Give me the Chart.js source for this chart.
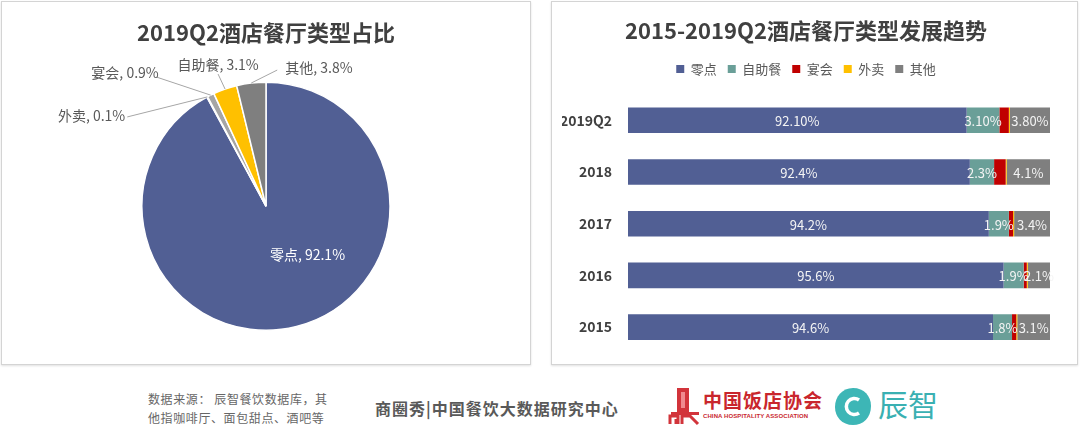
<!DOCTYPE html>
<html>
<head>
<meta charset="utf-8">
<script src="https://cdn.jsdelivr.net/npm/chart.js@4"></script>
<style>
  body { margin: 0; width: 1080px; height: 433px; background: #fff; position: relative; overflow: hidden;
         font-family: 'Noto Sans CJK SC', 'Noto Sans', sans-serif; }
  .panel { position: absolute; top: 1px; height: 364px; box-sizing: border-box; border: 1px solid #d4d4d4;
           box-shadow: 0 1px 2px rgba(0,0,0,0.12); background: #fff; }
  .panel canvas { position: absolute; left: 0; top: 0; }
  .note { position: absolute; left: 148px; top: 389px; font-size: 12px; line-height: 19px; color: #666; letter-spacing: 0.6px; }
  .brand { position: absolute; left: 375px; top: 396px; font-size: 16px; font-weight: bold; color: #595959; letter-spacing: 1px; }
  .cha { position: absolute; left: 703px; top: 386px; font-size: 19px; font-weight: bold; color: #c9262d; letter-spacing: 1px; }
  .cha-en { position: absolute; left: 703px; top: 413px; font-size: 6px; font-weight: bold; color: #c9262d; letter-spacing: 0.1px; font-family: 'Liberation Sans', sans-serif; }
  .cz { position: absolute; left: 878px; top: 384px; font-size: 30px; color: #3ab0b2; line-height: 38px; }
</style>
</head>
<body>
<div class="panel" style="left:1px; width:530px;"><canvas id="pieChart" width="528" height="362"></canvas></div>
<div class="panel" style="left:551px; width:527px;"><canvas id="barChart" width="525" height="362"></canvas></div>

<div class="note">数据来源： 辰智餐饮数据库，其<br>他指咖啡厅、面包甜点、酒吧等</div>
<div class="brand">商圈秀|中国餐饮大数据研究中心</div>

<svg style="position:absolute; left:668px; top:386px;" width="34" height="40" viewBox="0 0 34 40">
  <rect x="9" y="2" width="12" height="24" fill="#d2343b"/>
  <rect x="13" y="6" width="4" height="16" fill="#f08a8f"/>
  <rect x="3" y="26" width="28" height="3" fill="#d2343b"/>
  <path d="M2 38 V30 H10 V38 M8 38 V33 M14 38 V30 H22 L30 38" stroke="#d2343b" stroke-width="3" fill="none"/>
</svg>
<div class="cha">中国饭店协会</div>
<div class="cha-en">CHINA HOSPITALITY ASSOCIATION</div>
<svg style="position:absolute; left:833px; top:385px;" width="40" height="42" viewBox="0 0 40 42">
  <path d="M20 3 C31 3 38 11 38 21 C38 33 30 40 20 40 C9 40 2 32 2 22 C2 12 9 3 20 3 Z" fill="#3db6b6"/>
  <path d="M26 15 A8 8 0 1 0 26 28" stroke="#fff" stroke-width="3.5" fill="none"/>
</svg>
<div class="cz">辰智</div>

<script>
// ---- pie: 2019Q2 share ----
const pieLabels = ['零点', '外卖', '宴会', '自助餐', '其他'];
const pieValues = [92.1, 0.1, 0.9, 3.1, 3.8];
const pieColors = ['#515f94', '#5b9bd5', '#a5a5a5', '#ffc000', '#7f7f7f'];

// ---- stacked bars: 2015-2019Q2 trend ----
const years = ['2019Q2', '2018', '2017', '2016', '2015'];
const lingDian = [92.1, 92.4, 94.2, 95.6, 94.6];
const ziZhuCan = [3.1, 2.3, 1.9, 1.9, 1.8];
const yanHui = [0.9, 1.1, 0.4, 0.3, 0.4];
const waiMai = [0.1, 0.1, 0.1, 0.1, 0.1];
const qiTa = [3.8, 4.1, 3.4, 2.1, 3.1];
const labelDecimals = [2, 1, 1, 1, 1];

const titleFont = { family: "'Noto Sans CJK SC', sans-serif", size: 22, weight: 'bold' };

// label placement for each pie slice, relative to the slice's outer edge midpoint
const pieLabelStyle = [
    { dx: 11, dy: -72, tx: 0, ty: 0, align: 'center', line: false, color: '#ffffff' },
    { dx: -80, dy: 20, tx: -2, ty: -1, align: 'right', line: true, color: '#595959' },
    { dx: -54, dy: -18, tx: 2, ty: -4, align: 'right', line: true, color: '#595959' },
    { dx: -7, dy: -15, tx: 0, ty: -9, align: 'center', line: true, color: '#595959' },
    { dx: 26, dy: -13, tx: 8, ty: -2, align: 'left', line: true, color: '#595959' }
];

const pieLabelPlugin = {
    id: 'pieLabels',
    afterDatasetsDraw(chart) {
        const ctx = chart.ctx;
        const meta = chart.getDatasetMeta(0);
        ctx.save();
        ctx.font = "14px 'Noto Sans CJK SC', sans-serif";
        ctx.textBaseline = 'middle';
        meta.data.forEach((arc, i) => {
            const p = arc.getProps(['x', 'y', 'startAngle', 'endAngle', 'outerRadius'], true);
            const mid = (p.startAngle + p.endAngle) / 2;
            const ex = p.x + Math.cos(mid) * p.outerRadius;
            const ey = p.y + Math.sin(mid) * p.outerRadius;
            const s = pieLabelStyle[i];
            const lx = ex + s.dx, ly = ey + s.dy;
            if (s.line) {
                ctx.strokeStyle = '#a6a6a6';
                ctx.lineWidth = 1;
                ctx.beginPath();
                ctx.moveTo(ex, ey);
                ctx.lineTo(lx, ly);
                ctx.stroke();
            }
            ctx.fillStyle = s.color;
            ctx.textAlign = s.align;
            ctx.fillText(`${pieLabels[i]}, ${pieValues[i]}%`, lx + s.tx, ly + s.ty);
        });
        ctx.restore();
    }
};

new Chart(document.getElementById('pieChart'), {
    type: 'pie',
    data: {
        labels: pieLabels,
        datasets: [{
            data: pieValues,
            backgroundColor: pieColors,
            borderColor: '#ffffff',
            borderWidth: 1.5
        }]
    },
    options: {
        responsive: false,
        animation: false,
        layout: { padding: { top: 0, bottom: 33, left: 0, right: 0 } },
        plugins: {
            legend: { display: false },
            tooltip: { enabled: false },
            title: {
                display: true,
                text: '2019Q2酒店餐厅类型占比',
                color: '#404040',
                font: titleFont,
                padding: { top: 17, bottom: 36 }
            }
        }
    },
    plugins: [pieLabelPlugin]
});

// value labels in the middle of the bar segments (零点, 自助餐, 其他)
const barLabelPlugin = {
    id: 'barLabels',
    afterDatasetsDraw(chart) {
        const ctx = chart.ctx;
        const area = chart.chartArea;
        ctx.save();
        ctx.font = "13px 'Noto Sans CJK SC', sans-serif";
        ctx.fillStyle = '#f4f4f4';
        ctx.textAlign = 'center';
        ctx.textBaseline = 'middle';
        chart.data.datasets.forEach((ds, di) => {
            if (!ds.showValue) return;
            chart.getDatasetMeta(di).data.forEach((bar, j) => {
                const { x, y, base } = bar.getProps(['x', 'y', 'base'], true);
                const left = Math.max(Math.min(x, base), area.left);
                const right = Math.min(Math.max(x, base), area.right);
                ctx.fillText(ds.data[j].toFixed(labelDecimals[j]) + '%', (left + right) / 2, y + 1);
            });
        });
        ctx.restore();
    }
};

// extra room under the legend
const legendGap = {
    id: 'legendGap',
    beforeInit(chart) {
        const fit = chart.legend.fit;
        chart.legend.fit = function () {
            fit.call(this);
            this.height += 9;
        };
    }
};

function barSet(label, data, color, showValue) {
    return {
        label, data,
        backgroundColor: color,
        borderWidth: 0,
        barPercentage: 0.9,
        categoryPercentage: 0.55,
        showValue
    };
}

new Chart(document.getElementById('barChart'), {
    type: 'bar',
    data: {
        labels: years,
        datasets: [
            barSet('零点', lingDian, '#515f94', true),
            barSet('自助餐', ziZhuCan, '#6a9f98', true),
            barSet('宴会', yanHui, '#c00000', false),
            barSet('外卖', waiMai, '#ffc000', false),
            barSet('其他', qiTa, '#7f7f7f', true)
        ]
    },
    options: {
        indexAxis: 'y',
        responsive: false,
        animation: false,
        layout: { padding: { top: 0, bottom: 11, left: 10, right: 27 } },
        scales: {
            x: { stacked: true, min: 60, max: 100, display: false },
            y: {
                stacked: true,
                grid: { display: false, drawTicks: false },
                border: { display: false },
                ticks: {
                    color: '#404040',
                    padding: 16,
                    font: { family: "'Noto Sans CJK SC', sans-serif", size: 14, weight: 'bold' }
                },
                afterFit(scale) {
                    scale.width = 66;
                    scale.paddingTop = 0;
                    scale.paddingBottom = 0;
                }
            }
        },
        plugins: {
            tooltip: { enabled: false },
            title: {
                display: true,
                text: '2015-2019Q2酒店餐厅类型发展趋势',
                color: '#404040',
                font: titleFont,
                padding: { top: 15, bottom: 8 }
            },
            legend: {
                labels: {
                    boxWidth: 8,
                    boxHeight: 8,
                    padding: 11,
                    color: '#595959',
                    font: { family: "'Noto Sans CJK SC', sans-serif", size: 13 }
                }
            }
        }
    },
    plugins: [barLabelPlugin, legendGap]
});
</script>
</body>
</html>
